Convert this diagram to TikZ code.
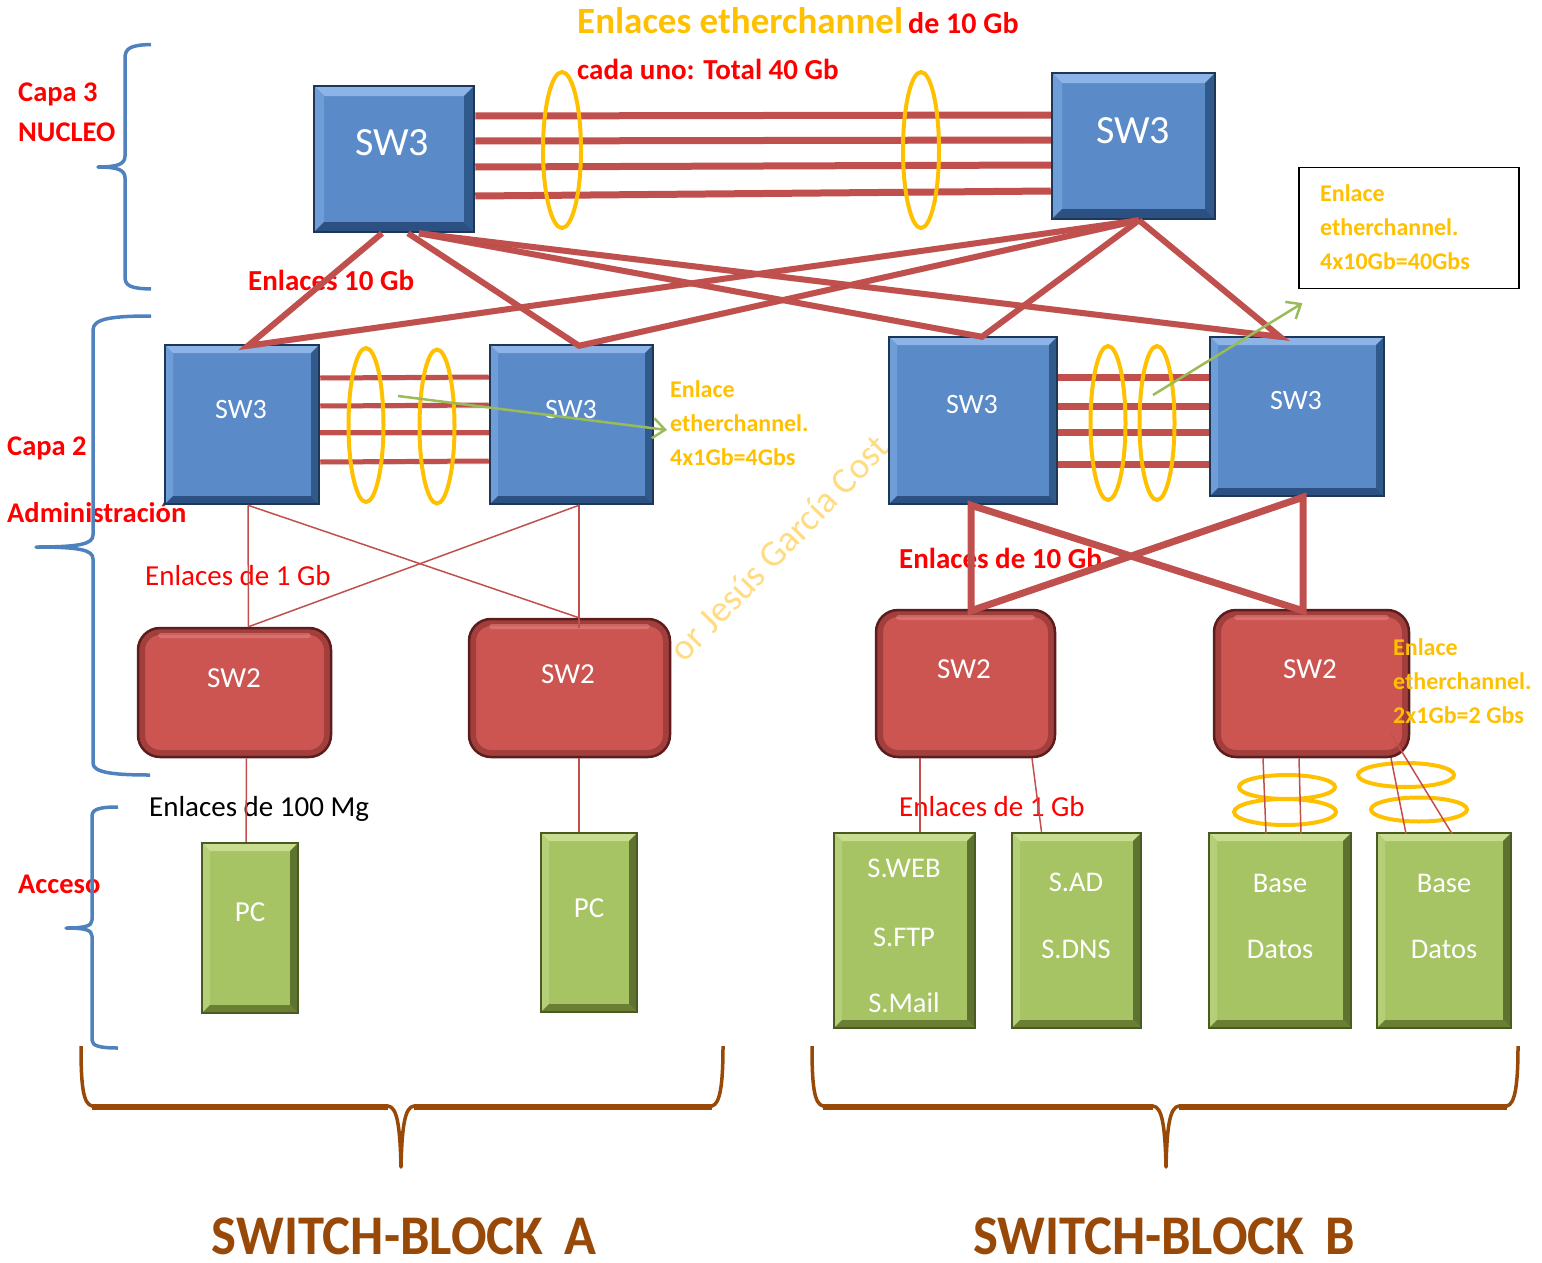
\documentclass[tikz,border=0pt]{standalone}
\usepackage{fontspec}
\setmainfont{Carlito}
\usetikzlibrary{arrows.meta}

% palette
\definecolor{linkred}{HTML}{C0504D}
\definecolor{chanyel}{HTML}{FFC000}
\definecolor{txtred}{HTML}{FF0000}
\definecolor{bracebl}{HTML}{4F81BD}
\definecolor{bracebr}{HTML}{984807}
\definecolor{arrgreen}{HTML}{9BBB59}
\definecolor{wmark}{RGB}{255,220,130}
% blue bevel (layer 3 switches)
\definecolor{bmain}{HTML}{5A8BC8}
\definecolor{btop}{HTML}{8DB4E6}
\definecolor{bleft}{HTML}{6F9DD8}
\definecolor{bright}{HTML}{315A8C}
\definecolor{bbot}{HTML}{2C5082}
\definecolor{bedge}{HTML}{1E3756}
% green bevel (end devices)
\definecolor{gmain}{HTML}{A6C463}
\definecolor{gtop}{HTML}{C8DD90}
\definecolor{gleft}{HTML}{B4CF78}
\definecolor{gright}{HTML}{5E7330}
\definecolor{gbot}{HTML}{6A7F34}
\definecolor{gedge}{HTML}{4A5B22}
% red rounded (layer 2 switches)
\definecolor{rmain}{HTML}{CC5552}
\definecolor{rhi}{HTML}{E88784}
\definecolor{rdk}{HTML}{7A2A28}
\definecolor{redge}{HTML}{5C1D1C}

\newcommand\fsz[1]{\fontsize{#1}{#1}\selectfont}

\tikzset{
  bevelbox/.style n args={7}{rectangle, inner sep=0pt, fill=#1, draw=#6, line width=2.5pt,
    path picture={
      \fill[#2] (path picture bounding box.north west) -- (path picture bounding box.north east)
        -- ([shift={(-#7,-#7)}]path picture bounding box.north east)
        -- ([shift={(#7,-#7)}]path picture bounding box.north west) -- cycle;
      \fill[#3] (path picture bounding box.north west) -- ([shift={(#7,-#7)}]path picture bounding box.north west)
        -- ([shift={(#7,#7)}]path picture bounding box.south west) -- (path picture bounding box.south west) -- cycle;
      \fill[#4] (path picture bounding box.north east) -- ([shift={(-#7,-#7)}]path picture bounding box.north east)
        -- ([shift={(-#7,#7)}]path picture bounding box.south east) -- (path picture bounding box.south east) -- cycle;
      \fill[#5] (path picture bounding box.south west) -- ([shift={(#7,#7)}]path picture bounding box.south west)
        -- ([shift={(-#7,#7)}]path picture bounding box.south east) -- (path picture bounding box.south east) -- cycle;
    }},
  corebox/.style={bevelbox={bmain}{btop}{bleft}{bright}{bbot}{bedge}{10pt}},
  distbox/.style={bevelbox={bmain}{btop}{bleft}{bright}{bbot}{bedge}{8pt}},
  accbox/.style={bevelbox={gmain}{gtop}{gleft}{gright}{gbot}{gedge}{8pt}},
  swtwo/.style={rectangle, rounded corners=22pt, inner sep=0pt, fill=rmain, draw=redge, line width=2.5pt,
    path picture={
      \draw[rdk, opacity=.5, line width=14pt, rounded corners=22pt]
        (path picture bounding box.south west) rectangle (path picture bounding box.north east);
      \fill[rhi, opacity=.55, rounded corners=3pt] ([shift={(20pt,-5pt)}]path picture bounding box.north west)
        rectangle ([shift={(-20pt,-10pt)}]path picture bounding box.north east);
    }},
  boxtxt/.style={text=white, inner sep=0pt},
  lbl/.style={inner sep=0pt, anchor=base west},
  redbold/.style={lbl, text=txtred, font=\fsz{28.5}\bfseries},
  redreg/.style={lbl, text=txtred, font=\fsz{29}},
  yelnote/.style={inner sep=0pt, anchor=west, align=left, text=chanyel, font=\fontsize{24}{34}\selectfont\bfseries},
  lshadow/.style={preaction={draw=black, opacity=.16, transform canvas={yshift=-3pt}}},
  chan/.style={draw=linkred, line width=7pt, lshadow},
  chanthin/.style={draw=linkred, line width=5pt, lshadow},
  uplink/.style={draw=linkred, line width=6pt, lshadow},
  thinlink/.style={draw=linkred, line width=1.5pt},
  ring/.style={draw=chanyel, line width=4pt},
  garrow/.style={draw=arrgreen, line width=2.5pt, -{Straight Barb[length=12pt,width=20pt,line width=2.5pt]}},
  bluebrace/.style={draw=bracebl, line width=3.5pt, line join=round},
  brownbrace/.style={draw=bracebr, line width=3.5pt, line join=round},
}

\begin{document}
\begin{tikzpicture}[x=1pt, y=-1pt]
\useasboundingbox (0,0) rectangle (1542,1263);

% faded author mark
\node[text=wmark, font=\fsz{37}, rotate=46, inner sep=0pt] (wmk) at (779,548) {or Jesús García Cost};

% ---------- titles and layer names
\node[lbl, text=chanyel, font=\fsz{37}\bfseries] (t1) at (577,34) {Enlaces etherchannel};
\node[lbl, text=txtred, font=\fsz{30}\bfseries] (t2) at (908,34) {de 10 Gb};
\node[lbl, text=txtred, font=\fsz{29}\bfseries] (t3) at (577,79) {cada uno: Total 40 Gb};

\node[redbold] (cap3) at (18,101) {Capa 3};
\node[redbold] (nuc) at (18,141) {NUCLEO};
\node[redbold] (cap2) at (7,455) {Capa 2};
\node[redbold] (adm) at (7,522) {Administración};
\node[redbold] (acc) at (18,893) {Acceso};

\node[lbl, text=txtred, font=\fsz{29}\bfseries] (l10a) at (248,290) {Enlaces 10 Gb};
\node[redreg] (l1a) at (145,585) {Enlaces de 1 Gb};
\node[lbl, font=\fsz{29}] (l100) at (149,816) {Enlaces de 100 Mg};
\node[lbl, text=txtred, font=\fsz{29}\bfseries] (l10b) at (899,568) {Enlaces de 10 Gb};
\node[redreg] (l1b) at (899,816) {Enlaces de 1 Gb};

% ---------- core layer
\node[corebox, minimum width=160pt, minimum height=146pt] (c1) at (394,159) {};
\node[corebox, minimum width=163pt, minimum height=146pt] (c2) at (1133.5,146) {};
\node[boxtxt, font=\fsz{40}] (c1t) at (392,143) {SW3};
\node[boxtxt, font=\fsz{40}] (c2t) at (1133,131) {SW3};

% ---------- distribution layer
\node[distbox, minimum width=154pt, minimum height=159pt] (a1) at (242,424.5) {};
\node[distbox, minimum width=163pt, minimum height=159pt] (a2) at (571.5,424.5) {};
\node[distbox, minimum width=168pt, minimum height=167pt] (b1) at (973,420.5) {};
\node[distbox, minimum width=174pt, minimum height=159pt] (b2) at (1297,416.5) {};
\node[boxtxt, font=\fsz{28}] (a1t) at (241,410) {SW3};
\node[boxtxt, font=\fsz{28}] (a2t) at (571,410) {SW3};
\node[boxtxt, font=\fsz{28}] (b1t) at (972,405) {SW3};
\node[boxtxt, font=\fsz{28}] (b2t) at (1296,401) {SW3};

% ---------- layer 2 switches
\node[swtwo, minimum width=193pt, minimum height=129pt] (s1) at (234.5,692.5) {};
\node[swtwo, minimum width=201pt, minimum height=138pt] (s2) at (569.5,688) {};
\node[swtwo, minimum width=179pt, minimum height=147pt] (s3) at (965.5,683.5) {};
\node[swtwo, minimum width=195pt, minimum height=147pt] (s4) at (1311.5,683.5) {};
\node[boxtxt, font=\fsz{29}] (s1t) at (234,678) {SW2};
\node[boxtxt, font=\fsz{29}] (s2t) at (568,674) {SW2};
\node[boxtxt, font=\fsz{29}] (s3t) at (964,669) {SW2};
\node[boxtxt, font=\fsz{29}] (s4t) at (1310,669) {SW2};

% ---------- end devices
\node[accbox, minimum width=96pt, minimum height=170pt] (p1) at (250,928) {};
\node[accbox, minimum width=96pt, minimum height=179pt] (p2) at (589,922.5) {};
\node[accbox, minimum width=141pt, minimum height=195pt] (v1) at (904.5,930.5) {};
\node[accbox, minimum width=129pt, minimum height=195pt] (v2) at (1076.5,930.5) {};
\node[accbox, minimum width=142pt, minimum height=195pt] (d1) at (1280,930.5) {};
\node[accbox, minimum width=134pt, minimum height=195pt] (d2) at (1444,930.5) {};
\node[boxtxt, font=\fsz{29}] (p1t) at (250,912) {PC};
\node[boxtxt, font=\fsz{29}] (p2t) at (589,908) {PC};
\node[boxtxt, font=\fsz{28.5}] (v1a) at (904,868) {S.WEB};
\node[boxtxt, font=\fsz{28.5}] (v1b) at (904,937) {S.FTP};
\node[boxtxt, font=\fsz{28.5}] (v1c) at (904,1003) {S.Mail};
\node[boxtxt, font=\fsz{28.5}] (v2a) at (1076,882) {S.AD};
\node[boxtxt, font=\fsz{28.5}] (v2b) at (1076,949) {S.DNS};
\node[boxtxt, font=\fsz{28.5}] (d1a) at (1280,883) {Base};
\node[boxtxt, font=\fsz{28.5}] (d1b) at (1280,949) {Datos};
\node[boxtxt, font=\fsz{28.5}] (d2a) at (1444,883) {Base};
\node[boxtxt, font=\fsz{28.5}] (d2b) at (1444,949) {Datos};

% ---------- core etherchannel (4 x 10 Gb)
\draw[chan] ([yshift=43pt]c1.east) -- ([yshift=31pt]c2.west);
\draw[chan] ([yshift=18pt]c1.east) -- ([yshift=6pt]c2.west);
\draw[chan] ([yshift=-8pt]c1.east) -- ([yshift=-19pt]c2.west);
\draw[chan] ([yshift=-37pt]c1.east) -- ([yshift=-45pt]c2.west);
\draw[ring] (562,150) ellipse [x radius=19pt, y radius=78pt];
\draw[ring] (921,150) ellipse [x radius=18pt, y radius=78pt];

% ---------- core to distribution uplinks
\draw[uplink] ([xshift=-12pt]c1.south) -- ([xshift=6pt,yshift=-2pt]a1.north) -- ([xshift=5.5pt]c2.south);
\draw[uplink] ([xshift=14pt]c1.south) -- ([xshift=7.5pt,yshift=-2pt]a2.north) -- ([xshift=5.5pt]c2.south);
\draw[uplink] ([xshift=25pt]c1.south) -- ([xshift=9pt,yshift=-1pt]b1.north) -- ([xshift=5.5pt]c2.south);
\draw[uplink] ([xshift=25pt]c1.south) -- ([xshift=-17pt,yshift=-1pt]b2.north) -- ([xshift=5.5pt]c2.south);

% ---------- distribution etherchannel, block A
\draw[chanthin] ([yshift=46.5pt]a1.east) -- ([yshift=47.5pt]a2.west);
\draw[chanthin] ([yshift=18.5pt]a1.east) -- ([yshift=19.5pt]a2.west);
\draw[chanthin] ([yshift=-7.5pt]a1.east) -- ([yshift=-7.5pt]a2.west);
\draw[chanthin] ([yshift=-37.5pt]a1.east) -- ([yshift=-36.5pt]a2.west);
\draw[ring] (366,425) ellipse [x radius=17.5pt, y radius=77pt];
\draw[ring] (437,426.5) ellipse [x radius=17.5pt, y radius=77pt];

% ---------- distribution etherchannel, block B
\draw[chan] ([yshift=43.5pt]b1.east) -- ([yshift=39.5pt]b2.west);
\draw[chan] ([yshift=14.5pt]b1.east) -- ([yshift=10.5pt]b2.west);
\draw[chan] ([yshift=-11.5pt]b1.east) -- ([yshift=-15.5pt]b2.west);
\draw[chan] ([yshift=-43.5pt]b1.east) -- ([yshift=-47.5pt]b2.west);
\draw[ring] (1108,423) ellipse [x radius=17.5pt, y radius=77pt];
\draw[ring] (1157,423) ellipse [x radius=17.5pt, y radius=77pt];

% ---------- etherchannel notes
\node[yelnote] (nA) at (670,423) {Enlace\\etherchannel.\\4x1Gb=4Gbs};
\node[draw=black, line width=1.2pt, minimum width=220pt, minimum height=121pt, inner sep=0pt] (nbox) at (1409,228) {};
\node[yelnote] (nB) at (1320,227) {Enlace\\etherchannel.\\4x10Gb=40Gbs};
\node[yelnote] (nC) at (1393,681) {Enlace\\etherchannel.\\2x1Gb=2 Gbs};

\coordinate (gA) at (398,396);
\coordinate (gB) at (1153,395);
\draw[garrow] (gA) -- ([shift={(-3pt,-7pt)}]nA.west);
\draw[garrow] (gB) -- ([shift={(4pt,-14pt)}]nbox.south west);

% ---------- block A: distribution to access switches (1 Gb)
\draw[thinlink] ([xshift=6pt]a1.south) -- ([xshift=14pt]s1.north);
\draw[thinlink] ([xshift=6pt]a1.south) -- ([xshift=9.5pt]s2.north);
\draw[thinlink] ([xshift=7.5pt]a2.south) -- ([xshift=14pt]s1.north);
\draw[thinlink] ([xshift=7.5pt]a2.south) -- ([xshift=9.5pt,yshift=-10pt]s2.north);

% ---------- block B: distribution to access switches (10 Gb)
\draw[uplink, line width=7pt] ([xshift=-2pt]b1.south) -- ([xshift=5.5pt,yshift=-2pt]s3.north)
  -- ([xshift=6pt]b2.south) -- ([xshift=-8.5pt,yshift=-2pt]s4.north) -- cycle;

% ---------- access links
\draw[thinlink] ([xshift=12pt]s1.south) -- ([xshift=-4pt]p1.north);
\draw[thinlink] ([xshift=9.5pt]s2.south) -- ([xshift=-10pt]p2.north);
\draw[thinlink] ([xshift=-45.5pt]s3.south) -- ([xshift=15.5pt]v1.north);
\draw[thinlink] ([xshift=66.5pt]s3.south) -- ([xshift=-35pt]v2.north);

\draw[ring] (1287,787) ellipse [x radius=48pt, y radius=12pt];
\draw[ring] (1285,812) ellipse [x radius=51pt, y radius=13pt];
\draw[ring] (1406,775) ellipse [x radius=48pt, y radius=12pt];
\draw[ring] (1419,809.5) ellipse [x radius=48pt, y radius=12pt];

\draw[thinlink] ([xshift=-48.5pt]s4.south) -- ([xshift=-14pt,yshift=-2pt]d1.north);
\draw[thinlink] ([xshift=-12.5pt]s4.south) -- ([xshift=21pt,yshift=-2pt]d1.north);
\draw[thinlink] ([xshift=79.5pt]s4.south) -- ([xshift=-38pt,yshift=-2pt]d2.north);
\draw[thinlink] ([shift={(-19pt,24pt)}]s4.south east) -- ([xshift=8pt,yshift=-2pt]d2.north);

% ---------- layer braces
\draw[bluebrace] (151,44.5) .. controls (131,45) and (125,48) .. (125,58) -- (125,156)
  .. controls (125,164) and (118,167) .. (98,167) .. controls (118,167) and (125,170) .. (125,178)
  -- (125,277) .. controls (125,286) and (131,288.5) .. (151,289);
\draw[bluebrace] (151,316) .. controls (110,316) and (93,319) .. (93,330) -- (93,535)
  .. controls (93,544) and (80,547) .. (36,547) .. controls (80,547) and (93,550) .. (93,559)
  -- (93,763) .. controls (93,772) and (110,775) .. (150,775);
\draw[bluebrace] (118,807) .. controls (100,807) and (92,809) .. (92,816) -- (92,920)
  .. controls (92,926) and (85,928) .. (66,928) .. controls (85,928) and (92,930) .. (92,936)
  -- (92,1040) .. controls (92,1046) and (100,1048) .. (118,1048);

% ---------- switch-block braces
\draw[brownbrace] (81,1046) .. controls (81,1085) and (83,1104) .. (92,1106) -- (388,1106)
  .. controls (397,1107) and (400,1125) .. (401,1167)
  .. controls (402,1125) and (405,1107) .. (414,1106) -- (712,1106)
  .. controls (720,1104) and (723,1085) .. (723,1046);
\draw[bracebr, line width=6pt] (92,1107) -- (388,1107) (414,1107) -- (712,1107);
\draw[brownbrace] (812,1046) .. controls (812,1085) and (814,1104) .. (823,1106) -- (1153,1106)
  .. controls (1162,1107) and (1165,1125) .. (1166,1167)
  .. controls (1167,1125) and (1170,1107) .. (1179,1106) -- (1507,1106)
  .. controls (1515,1104) and (1518,1085) .. (1518,1046);
\draw[bracebr, line width=6pt] (823,1107) -- (1153,1107) (1179,1107) -- (1507,1107);

\node[inner sep=0pt, anchor=base, text=bracebr, font=\fsz{56}\bfseries] (sba) at (404,1254)
  {\scalebox{0.94}[1]{SWITCH-BLOCK\hspace{0.4em}A}};
\node[inner sep=0pt, anchor=base, text=bracebr, font=\fsz{56}\bfseries] (sbb) at (1164,1254)
  {\scalebox{0.94}[1]{SWITCH-BLOCK\hspace{0.4em}B}};
\end{tikzpicture}
\end{document}
